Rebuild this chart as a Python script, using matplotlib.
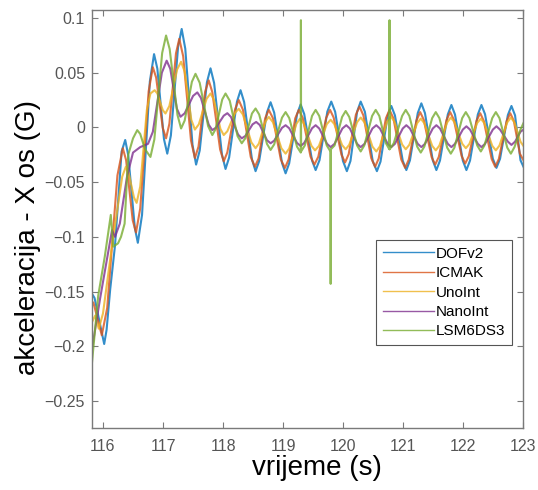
import matplotlib
matplotlib.use("Agg")
import matplotlib.pyplot as plt

plt.rcParams['font.family'] = ['Liberation Sans', 'DejaVu Sans']

# values: time (s) and acceleration (G) at the turning
# points of each trace plus a couple of points on each flank
t_dof = [115.817, 115.86, 116.02, 116.06, 116.12, 116.20, 116.31, 116.37,
         116.42, 116.53, 116.58, 116.65, 116.78, 116.85, 116.905, 117.015, 117.07,
         117.13, 117.25, 117.31, 117.37, 117.49, 117.55, 117.61, 117.73, 117.79,
         117.85, 117.98, 118.04, 118.10, 118.23, 118.29, 118.35, 118.48, 118.54,
         118.60, 118.73, 118.79, 118.85, 118.98, 119.04, 119.10, 119.23, 119.29,
         119.35, 119.48, 119.54, 119.605, 119.735, 119.80, 119.865, 119.995, 120.06,
         120.12, 120.23, 120.29, 120.36, 120.49, 120.56, 120.62, 120.74, 120.80,
         120.86, 120.99, 121.05, 121.11, 121.24, 121.30, 121.36, 121.49, 121.55,
         121.61, 121.74, 121.80, 121.86, 121.99, 122.05, 122.11, 122.24, 122.30,
         122.36, 122.49, 122.55, 122.61, 122.74, 122.80, 122.86, 122.95, 123.0]
v_dof = [-0.152, -0.156, -0.198, -0.185, -0.148, -0.108, -0.022, -0.0115,
         -0.0253, -0.0918, -0.1055, -0.080, 0.042, 0.067, 0.0537, -0.0107, -0.024,
         -0.0074, 0.0734, 0.090, 0.0719, -0.0159, -0.034, -0.0212, 0.0412, 0.054,
         0.0406, -0.0246, -0.038, -0.0275, 0.0235, 0.034, 0.0232, -0.0292, -0.040,
         -0.0308, 0.0138, 0.023, 0.0135, -0.0325, -0.042, -0.0328, 0.0118, 0.021,
         0.0122, -0.0302, -0.039, -0.0299, 0.0145, 0.0236, 0.0143, -0.0307, -0.040,
         -0.0307, 0.0143, 0.0236, 0.0143, -0.0307, -0.040, -0.0313, 0.0109, 0.0196,
         0.0110, -0.0304, -0.039, -0.0301, 0.0131, 0.022, 0.0131, -0.0301, -0.039,
         -0.0303, 0.0118, 0.0205, 0.0118, -0.0303, -0.039, -0.0303, 0.0118, 0.0205,
         0.0121, -0.0286, -0.037, -0.0287, 0.0113, 0.0196, 0.011, -0.030, -0.036]

t_icmak = [115.817, 115.84, 115.98, 116.07, 116.24, 116.33,
           116.385, 116.495, 116.55, 116.62, 116.76, 116.83, 116.885, 116.995, 117.05,
           117.105, 117.215, 117.27, 117.335, 117.465, 117.53, 117.59, 117.70, 117.76,
           117.82, 117.95, 118.01, 118.07, 118.20, 118.26, 118.33, 118.46, 118.53,
           118.59, 118.70, 118.76, 118.83, 118.96, 119.03, 119.09, 119.20, 119.26,
           119.325, 119.455, 119.52, 119.585, 119.715, 119.78, 119.84, 119.97, 120.03,
           120.09, 120.21, 120.27, 120.335, 120.465, 120.53, 120.59, 120.71, 120.77,
           120.835, 120.965, 121.03, 121.09, 121.22, 121.28, 121.34, 121.47, 121.53,
           121.59, 121.72, 121.78, 121.84, 121.97, 122.03, 122.09, 122.22, 122.28,
           122.34, 122.47, 122.53, 122.59, 122.72, 122.78, 122.84, 122.94, 123.0]
v_icmak = [-0.163, -0.160, -0.190, -0.165, -0.044, -0.019,
           -0.030, -0.085, -0.096, -0.074, 0.033, 0.055, 0.0455, -0.0005, -0.010,
           0.0033, 0.0677, 0.081, 0.065, -0.012, -0.028, -0.0176, 0.0326, 0.043,
           0.0322, -0.0202, -0.031, -0.0228, 0.0168, 0.025, 0.0161, -0.0271, -0.036,
           -0.0284, 0.0084, 0.016, 0.0083, -0.0293, -0.037, -0.0293, 0.0083, 0.016,
           0.0087, -0.0267, -0.034, -0.0267, 0.0087, 0.016, 0.0090, -0.0250, -0.032,
           -0.0245, 0.0116, 0.019, 0.0110, -0.0280, -0.036, -0.0284, 0.0084, 0.016,
           0.0083, -0.0293, -0.037, -0.0295, 0.0065, 0.014, 0.0070, -0.0270, -0.034,
           -0.0270, 0.0070, 0.014, 0.0071, -0.0261, -0.033, -0.0263, 0.0063, 0.013,
           0.0058, -0.0288, -0.036, -0.0288, 0.0058, 0.013, 0.0058, -0.024, -0.030]

t_uno = [115.817, 115.87, 115.93, 116.00, 116.15, 116.32, 116.38,
         116.425, 116.515, 116.56, 116.62, 116.73, 116.79, 116.86,
         116.905, 116.995, 117.04, 117.105, 117.235, 117.30, 117.36, 117.47, 117.53,
         117.595, 117.725, 117.79, 117.845, 117.955, 118.01, 118.07, 118.20, 118.26,
         118.33, 118.47, 118.54, 118.595, 118.705, 118.76, 118.83, 118.97, 119.04,
         119.10, 119.22, 119.28, 119.34, 119.47, 119.53, 119.595, 119.725, 119.79,
         119.85, 119.98, 120.04, 120.10, 120.23, 120.29, 120.355, 120.485, 120.55,
         120.61, 120.73, 120.79, 120.85, 120.98, 121.04, 121.10, 121.23, 121.29,
         121.35, 121.48, 121.54, 121.60, 121.73, 121.79, 121.85, 121.98, 122.04,
         122.10, 122.23, 122.29, 122.35, 122.48, 122.54, 122.60, 122.73, 122.79,
         122.85, 122.95, 123.0]
v_uno = [-0.178, -0.172, -0.184, -0.170, -0.108, -0.045, -0.036,
         -0.041, -0.064, -0.069, -0.054, 0.016, 0.031, 0.034,
         0.031, 0.0158, 0.0127, 0.0196, 0.0531, 0.060, 0.051, 0.007, -0.002,
         0.0028, 0.0262, 0.031, 0.0255, -0.0014, -0.007, -0.0035, 0.0135, 0.017,
         0.0117, -0.0137, -0.019, -0.0148, 0.0054, 0.0096, 0.0047, -0.0191, -0.024,
         -0.0193, 0.0033, 0.008, 0.0038, -0.0168, -0.021, -0.0169, 0.0029, 0.007,
         0.0031, -0.0161, -0.020, -0.0158, 0.0048, 0.009, 0.0045, -0.0175, -0.022,
         -0.0173, 0.0053, 0.010, 0.0056, -0.0156, -0.020, -0.0159, 0.0039, 0.008,
         0.0038, -0.0168, -0.021, -0.0166, 0.0046, 0.009, 0.0049, -0.0149, -0.019,
         -0.0151, 0.0041, 0.008, 0.0038, -0.0168, -0.021, -0.0166, 0.0046, 0.009,
         0.0046, -0.013, -0.017]

t_nano = [115.817, 115.95, 116.15, 116.20, 116.28, 116.40, 116.50, 116.62, 116.75,
          116.83, 116.98, 117.06, 117.12, 117.23, 117.29, 117.36, 117.50, 117.57,
          117.63, 117.76, 117.82, 117.88, 118.01, 118.07, 118.13, 118.25, 118.31,
          118.37, 118.49, 118.55, 118.61, 118.73, 118.79, 118.85, 118.98, 119.04,
          119.10, 119.23, 119.29, 119.35, 119.48, 119.54, 119.60, 119.73, 119.79,
          119.855, 119.985, 120.05, 120.11, 120.23, 120.29, 120.355, 120.485, 120.55,
          120.61, 120.74, 120.80, 120.86, 120.99, 121.05, 121.11, 121.24, 121.30,
          121.36, 121.49, 121.55, 121.61, 121.74, 121.80, 121.86, 121.99, 122.05,
          122.11, 122.24, 122.30, 122.36, 122.49, 122.55, 122.61, 122.74, 122.80,
          122.86, 122.95, 123.0]
v_nano = [-0.2025, -0.157, -0.094, -0.100, -0.088, -0.045, -0.023, -0.018, -0.015,
          -0.004, 0.050, 0.061, 0.0536, 0.0172, 0.0097, 0.0129, 0.0288, 0.032,
          0.027, 0.0025, -0.0025, -0.0002, 0.0107, 0.013, 0.0096, -0.0066, -0.010,
          -0.0078, 0.0028, 0.005, 0.0022, -0.0117, -0.0145, -0.0121, -0.0004, 0.002,
          -0.0008, -0.0142, -0.017, -0.0142, -0.0008, 0.002, -0.001, -0.015, -0.018,
          -0.015, -0.001, 0.002, -0.001, -0.015, -0.018, -0.015, -0.001, 0.002,
          -0.001, -0.015, -0.018, -0.015, -0.001, 0.002, -0.001, -0.015, -0.018,
          -0.015, -0.001, 0.002, -0.001, -0.015, -0.018, -0.015, -0.002, 0.001,
          -0.002, -0.015, -0.018, -0.015, -0.002, 0.001, -0.002, -0.013, -0.016,
          -0.013, -0.004, -0.002]

# LSM6DS3 also has three single-sample spikes (119.295, 119.79, 120.77 s)
t_lsm = [115.817, 115.92, 116.03, 116.13, 116.17, 116.25, 116.30, 116.36, 116.42,
         116.50, 116.57, 116.62, 116.70, 116.79,
         116.855, 116.985, 117.05, 117.11, 117.24, 117.30, 117.36, 117.48, 117.54,
         117.61, 117.75, 117.82, 117.875, 117.985, 118.04, 118.11, 118.24, 118.31,
         118.37, 118.48, 118.54, 118.60, 118.73, 118.79, 118.85, 118.98, 119.04,
         119.10, 119.23, 119.292, 119.295, 119.298, 119.36, 119.48, 119.54,
         119.60, 119.725, 119.787, 119.79, 119.793, 119.855, 119.98, 120.04,
         120.10, 120.23, 120.29, 120.35, 120.48, 120.54,
         120.60, 120.71, 120.767, 120.77, 120.773, 120.84, 120.98, 121.04,
         121.10, 121.23, 121.29, 121.35, 121.48, 121.54, 121.60, 121.73, 121.79,
         121.85, 121.98, 122.04, 122.10, 122.23, 122.29, 122.35, 122.48, 122.54,
         122.60, 122.73, 122.79, 122.85, 122.95, 123.0]
v_lsm = [-0.215, -0.154, -0.118, -0.080, -0.109, -0.106, -0.100, -0.088, -0.025,
         -0.010, -0.0025, -0.006, -0.020, -0.027,
         -0.011, 0.068, 0.084, 0.0716, 0.0114, -0.001, 0.0063, 0.0417, 0.049,
         0.0408, 0.0012, -0.007, -0.0015, 0.0255, 0.031, 0.0244, -0.0079, -0.0145,
         -0.0099, 0.0127, 0.0173, 0.0118, -0.0151, -0.0206, -0.0155, 0.0089, 0.014,
         0.0086, -0.0176, -0.023, 0.098, -0.022, -0.0165, 0.0105, 0.016,
         0.0105, -0.0165, -0.022, -0.143, -0.020, -0.0165, 0.0095, 0.015,
         0.0095, -0.0165, -0.022, -0.0165, 0.0105, 0.016,
         0.0105, -0.0145, -0.020, 0.098, -0.020, -0.0145, 0.0105, 0.016,
         0.0105, -0.0175, -0.023, -0.0175, 0.0085, 0.014, 0.0085, -0.0185, -0.024,
         -0.0185, 0.0085, 0.014, 0.0085, -0.0165, -0.022, -0.0165, 0.0085, 0.014,
         0.0085, -0.0185, -0.024, -0.018, -0.002, 0.004]

names = ['DOFv2', 'ICMAK', 'UnoInt', 'NanoInt', 'LSM6DS3']
colors = ['#0072BD', '#D95319', '#EDB120', '#7E2F8E', '#77AC30']

xticks = [116, 117, 118, 119, 120, 121, 122, 123]
yticks = [-0.25, -0.2, -0.15, -0.1, -0.05, 0, 0.05, 0.1]
ytick_labels = ['\u22120.25', '\u22120.2', '\u22120.15', '\u22120.1', '\u22120.05', '0', '0.05', '0.1']

fig = plt.figure(figsize=(5.38, 4.9), dpi=100)
ax = fig.add_axes([0.171, 0.126, 0.802, 0.854])

series = [(t_dof, v_dof), (t_icmak, v_icmak), (t_uno, v_uno), (t_nano, v_nano), (t_lsm, v_lsm)]
for (t, v), name, c in zip(series, names, colors):
    ax.plot(t, v, color=c, lw=1.5, alpha=0.8, label=name, solid_joinstyle='round')

ax.set_xlim(115.817, 123)
ax.set_ylim(-0.275, 0.1075)
ax.set_xticks(xticks)
ax.set_yticks(yticks)
ax.set_yticklabels(ytick_labels)

gray = '#7a7a7a'
for s in ax.spines.values():
    s.set_color(gray)
    s.set_linewidth(1.0)
ax.tick_params(direction='in', top=True, right=True, length=4, width=0.8,
               color=gray, labelcolor='#555555', labelsize=11.5)
ax.tick_params(axis='x', pad=8)
ax.tick_params(axis='y', pad=5)

ax.set_xlabel('vrijeme (s)', fontsize=20, color='black')
ax.xaxis.set_label_coords(0.522, -0.095)
ax.xaxis.label.set_va('center')
ax.set_ylabel('akceleracija - X os (G)', fontsize=20, color='black')
ax.yaxis.set_label_coords(-0.148, 0.457)
ax.yaxis.label.set_va('center')

leg = ax.legend(loc='upper right', bbox_to_anchor=(0.974, 0.45), borderaxespad=0,
                fontsize=11, handlelength=3.3, handletextpad=0.15, labelspacing=0.35,
                borderpad=0.45, fancybox=False, framealpha=1, edgecolor='#555555')
leg.get_frame().set_linewidth(0.8)
for line in leg.get_lines():
    line.set_linewidth(1.0)

fig.savefig('out.png', dpi=100)
